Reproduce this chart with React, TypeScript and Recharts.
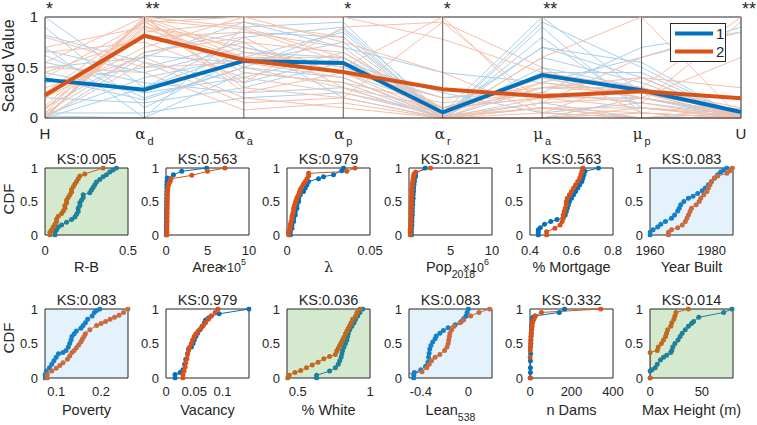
import React from 'react';
import { LineChart, Line, XAxis, YAxis, CartesianGrid, ReferenceLine, Legend } from 'recharts';

const FONT = '"Liberation Sans", Arial, Helvetica, sans-serif';
const TXT = '#262626';
const BLUE = '#0072BD';
const ORANGE = '#D95319';
const FAINT_BLUE = '#a9d0ec';
const FAINT_ORANGE = '#f5c0aa';

// ---------- top panel (parallel coordinates) ----------
const parMain = ['H', 'α', 'α', 'α', 'α', 'μ', 'μ', 'U'];
const parSub = ['', 'd', 'a', 'p', 'r', 'a', 'p', ''];
const parStars = ['*', '**', '', '*', '*', '**', '', '**'];
const meanGroup1 = [0.38, 0.28, 0.565, 0.545, 0.055, 0.425, 0.275, 0.06];
const meanGroup2 = [0.225, 0.815, 0.575, 0.455, 0.285, 0.215, 0.265, 0.195];

const faintGroup1 = [
  [1.0, 0.3, 0.8, 0.9, 0.05, 0.7, 0.4, 0.0],
  [0.9, 0.1, 0.6, 0.85, 0.0, 0.95, 0.5, 0.0],
  [0.82, 0.55, 0.35, 0.6, 0.1, 0.4, 0.2, 0.05],
  [0.7, 0.0, 0.9, 0.95, 0.0, 0.5, 0.3, 0.02],
  [0.67, 0.45, 0.7, 0.5, 0.2, 0.25, 0.7, 0.85],
  [0.62, 0.2, 0.5, 0.4, 0.0, 0.8, 0.1, 0.0],
  [0.55, 0.35, 0.25, 0.3, 0.0, 0.15, 0.0, 0.0],
  [0.5, 0.6, 0.95, 0.7, 0.45, 0.35, 0.6, 0.9],
  [0.45, 0.25, 0.4, 0.65, 0.05, 1.0, 0.25, 0.0],
  [0.35, 0.5, 0.75, 0.2, 0.0, 0.6, 0.35, 0.0],
  [0.2, 0.15, 0.3, 0.55, 0.25, 0.05, 0.15, 0.03],
  [0.1, 0.65, 0.85, 0.8, 0.0, 0.9, 0.05, 0.0],
  [0.05, 0.05, 0.2, 0.25, 0.02, 0.45, 0.45, 0.0],
  [0.03, 0.4, 0.6, 0.45, 0.1, 0.2, 0.2, 0.0],
  [0.02, 0.0, 0.45, 0.35, 0.0, 0.1, 0.0, 0.05],
  [0.0, 0.3, 0.65, 0.6, 0.0, 0.3, 0.3, 0.0],
  [0.0, 0.62, 0.55, 0.75, 0.02, 0.7, 0.55, 0.0],
  [0.4, 0.18, 0.5, 0.88, 0.0, 0.0, 0.2, 0.02],
];
const faintGroup2 = [
  [0.0, 1.0, 0.9, 0.6, 0.0, 0.2, 0.1, 0.0],
  [0.0, 0.95, 0.5, 0.3, 0.1, 0.35, 0.25, 0.05],
  [0.02, 0.9, 0.7, 0.45, 0.02, 0.1, 0.05, 0.0],
  [0.05, 1.0, 0.3, 0.2, 0.95, 0.15, 0.2, 0.02],
  [0.1, 0.85, 0.95, 0.8, 0.05, 0.3, 0.4, 0.3],
  [0.0, 0.98, 0.6, 0.55, 0.0, 0.05, 0.0, 0.0],
  [0.2, 0.7, 1.0, 1.0, 0.78, 0.45, 0.3, 0.1],
  [0.3, 0.6, 0.2, 0.1, 0.0, 0.0, 0.05, 0.0],
  [0.4, 0.95, 0.45, 0.35, 0.15, 0.25, 0.15, 0.95],
  [0.45, 0.8, 0.85, 0.7, 0.0, 0.6, 1.0, 0.0],
  [0.5, 0.45, 0.08, 0.15, 0.0, 0.1, 0.1, 0.05],
  [0.55, 1.0, 0.65, 0.5, 1.0, 0.05, 0.0, 0.0],
  [0.65, 0.75, 0.4, 0.25, 0.05, 0.4, 0.2, 0.6],
  [0.7, 0.9, 0.75, 0.65, 0.1, 0.2, 0.3, 1.0],
  [0.8, 0.5, 0.55, 0.4, 0.02, 0.15, 0.6, 0.85],
  [0.0, 0.92, 0.35, 0.9, 0.95, 0.5, 0.05, 0.0],
  [0.05, 0.65, 0.8, 0.3, 0.0, 0.0, 0.1, 0.02],
  [0.08, 1.0, 0.25, 0.45, 0.2, 0.3, 0.25, 0.0],
  [0.02, 0.88, 0.6, 0.6, 0.0, 0.1, 0.0, 0.1],
  [0.25, 0.95, 1.0, 0.75, 0.45, 0.05, 0.4, 0.0],
  [0.0, 0.55, 0.15, 0.2, 0.0, 0.35, 0.2, 0.05],
  [0.12, 0.97, 0.88, 0.55, 0.1, 0.25, 0.15, 0.0],
];

// ---------- CDF panels: [value, cumulative fraction] ----------
const rbGroup1 = [[0.06,0],[0.06,0.04],[0.07,0.08],[0.08,0.12],[0.1,0.15],[0.13,0.19],[0.16,0.23],[0.18,0.27],[0.19,0.31],[0.2,0.35],[0.2,0.4],[0.21,0.44],[0.21,0.48],[0.22,0.52],[0.23,0.56],[0.23,0.6],[0.27,0.63],[0.28,0.67],[0.29,0.71],[0.3,0.75],[0.31,0.79],[0.33,0.83],[0.35,0.87],[0.37,0.9],[0.39,0.94],[0.41,0.97],[0.43,1]];
const rbGroup2 = [[0.03,0],[0.03,0.04],[0.04,0.08],[0.05,0.12],[0.06,0.16],[0.07,0.2],[0.07,0.24],[0.08,0.28],[0.1,0.32],[0.11,0.36],[0.12,0.4],[0.12,0.44],[0.13,0.48],[0.13,0.52],[0.14,0.56],[0.15,0.6],[0.16,0.64],[0.16,0.68],[0.17,0.72],[0.18,0.76],[0.19,0.8],[0.2,0.84],[0.21,0.88],[0.24,0.91],[0.35,1]];
const areaGroup1 = [[0.03,0],[0.03,0.05],[0.04,0.1],[0.04,0.15],[0.05,0.2],[0.05,0.25],[0.05,0.3],[0.06,0.35],[0.06,0.4],[0.07,0.45],[0.07,0.5],[0.08,0.55],[0.08,0.6],[0.09,0.65],[0.1,0.7],[0.1,0.75],[0.12,0.8],[0.15,0.85],[0.9,0.9],[1.9,0.95],[4.9,1]];
const areaGroup2 = [[0.1,0],[0.1,0.04],[0.1,0.08],[0.11,0.12],[0.11,0.16],[0.12,0.2],[0.12,0.24],[0.12,0.28],[0.13,0.32],[0.13,0.36],[0.14,0.4],[0.14,0.44],[0.15,0.48],[0.15,0.52],[0.16,0.56],[0.17,0.6],[0.18,0.64],[0.2,0.68],[0.25,0.72],[0.35,0.76],[0.5,0.8],[0.6,0.84],[3.1,0.89],[5.0,0.95],[7.1,1]];
const lambdaGroup1 = [[0.002,0],[0.002,0.05],[0.003,0.1],[0.003,0.15],[0.004,0.2],[0.004,0.25],[0.005,0.3],[0.005,0.35],[0.006,0.4],[0.006,0.45],[0.007,0.5],[0.007,0.55],[0.008,0.6],[0.01,0.65],[0.011,0.7],[0.012,0.75],[0.013,0.8],[0.019,0.84],[0.022,0.87],[0.028,0.9],[0.033,0.96],[0.034,1]];
const lambdaGroup2 = [[0.001,0],[0.001,0.04],[0.0015,0.08],[0.002,0.12],[0.002,0.16],[0.0025,0.2],[0.003,0.24],[0.003,0.28],[0.0035,0.32],[0.004,0.36],[0.004,0.4],[0.0045,0.44],[0.005,0.48],[0.0055,0.52],[0.006,0.56],[0.007,0.6],[0.0075,0.64],[0.008,0.68],[0.009,0.72],[0.01,0.76],[0.011,0.8],[0.012,0.84],[0.013,0.88],[0.013,0.92],[0.036,0.95],[0.041,1]];
const popGroup1 = [[0.3,0],[0.3,0.05],[0.3,0.1],[0.35,0.15],[0.35,0.2],[0.35,0.25],[0.4,0.3],[0.4,0.35],[0.4,0.4],[0.45,0.45],[0.45,0.5],[0.5,0.55],[0.5,0.6],[0.55,0.65],[0.55,0.7],[0.6,0.75],[0.65,0.8],[0.7,0.85],[0.8,0.88],[0.8,0.92],[1.96,1]];
const popGroup2 = [[0.15,0],[0.15,0.04],[0.15,0.08],[0.2,0.12],[0.2,0.16],[0.2,0.2],[0.2,0.24],[0.25,0.28],[0.25,0.32],[0.25,0.36],[0.25,0.4],[0.3,0.44],[0.3,0.48],[0.3,0.52],[0.3,0.56],[0.35,0.6],[0.35,0.64],[0.35,0.68],[0.4,0.72],[0.4,0.76],[0.45,0.8],[0.5,0.84],[0.55,0.88],[0.6,0.91],[0.8,0.94],[2.6,1]];
const mortGroup1 = [[0.44,0],[0.44,0.04],[0.44,0.08],[0.45,0.11],[0.47,0.16],[0.5,0.2],[0.53,0.23],[0.56,0.26],[0.57,0.3],[0.575,0.35],[0.58,0.4],[0.585,0.45],[0.59,0.5],[0.6,0.55],[0.61,0.6],[0.62,0.65],[0.63,0.7],[0.64,0.75],[0.65,0.8],[0.655,0.85],[0.66,0.9],[0.665,0.95],[0.73,1]];
const mortGroup2 = [[0.48,0],[0.48,0.05],[0.52,0.1],[0.545,0.15],[0.555,0.2],[0.56,0.25],[0.56,0.3],[0.565,0.35],[0.57,0.4],[0.575,0.45],[0.575,0.5],[0.58,0.55],[0.59,0.6],[0.6,0.65],[0.61,0.7],[0.62,0.75],[0.63,0.8],[0.64,0.85],[0.645,0.9],[0.65,0.95],[0.655,1]];
const yearGroup1 = [[1960,0],[1960,0.04],[1961,0.08],[1962.5,0.12],[1963.5,0.16],[1965,0.2],[1967,0.25],[1968,0.3],[1969,0.36],[1969.5,0.4],[1970,0.45],[1971,0.5],[1972.5,0.55],[1974,0.58],[1975.5,0.62],[1977,0.66],[1978,0.7],[1979,0.75],[1980,0.8],[1981,0.85],[1982,0.9],[1983,0.94],[1984,0.97],[1985,1]];
const yearGroup2 = [[1966,0],[1966,0.04],[1967,0.08],[1969,0.11],[1970.5,0.15],[1971.5,0.2],[1972,0.25],[1972.5,0.3],[1973,0.35],[1973.5,0.4],[1975,0.45],[1976,0.5],[1976.5,0.55],[1977.5,0.6],[1978.5,0.65],[1979,0.7],[1979.5,0.75],[1980,0.8],[1981,0.85],[1982,0.88],[1985,0.92],[1986,0.96],[1986.8,1]];
const povertyGroup1 = [[0.075,0],[0.075,0.05],[0.078,0.1],[0.085,0.15],[0.09,0.2],[0.095,0.25],[0.1,0.3],[0.105,0.35],[0.115,0.37],[0.122,0.4],[0.127,0.45],[0.13,0.5],[0.133,0.55],[0.135,0.6],[0.14,0.64],[0.145,0.68],[0.155,0.72],[0.16,0.76],[0.165,0.8],[0.17,0.85],[0.18,0.9],[0.185,0.95],[0.19,0.98],[0.197,1]];
const povertyGroup2 = [[0.08,0],[0.08,0.05],[0.09,0.1],[0.1,0.14],[0.108,0.18],[0.115,0.22],[0.125,0.27],[0.13,0.32],[0.135,0.37],[0.14,0.4],[0.145,0.44],[0.15,0.48],[0.155,0.52],[0.158,0.56],[0.162,0.6],[0.165,0.64],[0.175,0.7],[0.19,0.76],[0.2,0.79],[0.21,0.82],[0.22,0.85],[0.23,0.88],[0.24,0.91],[0.25,0.95],[0.26,1]];
const vacancyGroup1 = [[0.016,0],[0.016,0.05],[0.025,0.08],[0.03,0.12],[0.033,0.2],[0.035,0.27],[0.038,0.35],[0.04,0.42],[0.045,0.45],[0.048,0.5],[0.05,0.55],[0.053,0.6],[0.056,0.65],[0.06,0.7],[0.064,0.75],[0.068,0.8],[0.07,0.84],[0.075,0.87],[0.08,0.9],[0.094,0.93],[0.147,1]];
const vacancyGroup2 = [[0.03,0],[0.03,0.05],[0.032,0.1],[0.034,0.16],[0.035,0.22],[0.037,0.28],[0.038,0.34],[0.04,0.4],[0.042,0.45],[0.045,0.5],[0.047,0.55],[0.05,0.6],[0.053,0.64],[0.057,0.68],[0.062,0.72],[0.066,0.76],[0.07,0.8],[0.075,0.85],[0.08,0.9],[0.087,0.95],[0.092,1]];
const whiteGroup1 = [[0.63,0],[0.63,0.04],[0.72,0.1],[0.76,0.15],[0.78,0.2],[0.79,0.25],[0.8,0.3],[0.805,0.35],[0.81,0.4],[0.82,0.45],[0.83,0.5],[0.84,0.55],[0.845,0.6],[0.85,0.65],[0.86,0.7],[0.875,0.75],[0.89,0.8],[0.9,0.85],[0.915,0.9],[0.93,0.95],[0.95,1]];
const whiteGroup2 = [[0.43,0],[0.44,0.04],[0.48,0.08],[0.52,0.11],[0.56,0.15],[0.6,0.19],[0.64,0.23],[0.68,0.28],[0.72,0.31],[0.76,0.34],[0.77,0.39],[0.78,0.43],[0.79,0.47],[0.8,0.51],[0.81,0.55],[0.82,0.59],[0.83,0.64],[0.84,0.68],[0.85,0.72],[0.86,0.76],[0.87,0.8],[0.88,0.85],[0.9,0.9],[0.91,0.95],[0.93,1]];
const leanGroup1 = [[-0.46,0],[-0.46,0.04],[-0.455,0.08],[-0.4,0.12],[-0.36,0.17],[-0.34,0.23],[-0.335,0.3],[-0.33,0.36],[-0.325,0.42],[-0.315,0.47],[-0.3,0.52],[-0.28,0.57],[-0.27,0.61],[-0.24,0.65],[-0.21,0.69],[-0.17,0.73],[-0.11,0.77],[-0.06,0.82],[-0.04,0.86],[-0.02,0.9],[-0.01,0.95],[0,1]];
const leanGroup2 = [[-0.6,0],[-0.6,0.04],[-0.39,0.09],[-0.35,0.15],[-0.33,0.2],[-0.31,0.25],[-0.28,0.3],[-0.24,0.34],[-0.2,0.4],[-0.18,0.45],[-0.17,0.5],[-0.165,0.55],[-0.16,0.6],[-0.155,0.65],[-0.14,0.7],[-0.12,0.75],[-0.07,0.8],[-0.04,0.84],[0.02,0.9],[0.09,0.95],[0.18,1]];
const damsGroup1 = [[2,0],[2,0.08],[2,0.15],[2,0.25],[3,0.35],[3,0.45],[4,0.5],[4,0.55],[5,0.6],[6,0.65],[7,0.7],[8,0.75],[10,0.8],[12,0.85],[15,0.88],[25,0.9],[141,0.95],[167,1]];
const damsGroup2 = [[0,0],[0,0.3],[1,0.4],[2,0.45],[3,0.5],[4,0.55],[5,0.6],[6,0.65],[8,0.7],[10,0.75],[12,0.8],[15,0.83],[20,0.86],[25,0.9],[55,0.95],[341,1]];
const maxHeightGroup1 = [[0,0],[0,0.1],[2,0.12],[5,0.15],[7,0.2],[10,0.26],[13,0.3],[16,0.33],[20,0.37],[21,0.4],[22,0.45],[24,0.5],[27,0.55],[29,0.6],[31,0.65],[34,0.7],[37,0.75],[40,0.79],[42,0.82],[47,0.88],[71,0.95],[79,1]];
const maxHeightGroup2 = [[0,0],[0,0.37],[7,0.4],[8,0.45],[11,0.5],[13,0.55],[15,0.6],[16,0.65],[17,0.7],[20,0.75],[21,0.8],[23,0.85],[24,0.9],[25,0.95],[37,1]];

const ksValues = ['0.005', '0.563', '0.979', '0.821', '0.563', '0.083', '0.083', '0.979', '0.036', '0.083', '0.332', '0.014'];
const xLabelMain = ['R-B', 'Area', 'λ', 'Pop', '% Mortgage', 'Year Built', 'Poverty', 'Vacancy', '% White', 'Lean', 'n Dams', 'Max Height (m)'];
const xLabelSub = ['', '', '', '2018', '', '', '', '', '', '538', '', ''];
const xLabelExpo = ['', '5', '', '6', '', '', '', '', '', '', '', ''];
const xDomains: [number, number][] = [[0, 0.5], [0, 10], [0, 0.05], [0, 10], [0.4, 0.8], [1960, 1987], [0.075, 0.26], [0, 0.147], [0.425, 1], [-0.5, 0.2], [0, 400], [0, 80]];
const xTicks = [[0, 0.5], [0, 5, 10], [0, 0.05], [5, 10], [0.4, 0.6, 0.8], [1960, 1980], [0.1, 0.2], [0, 0.05, 0.1], [0.5, 1], [-0.4, 0], [0, 200, 400], [0, 50]];
const panelShade = ['green', '', '', '', '', 'blue', 'blue', '', 'green', 'blue', '', 'green'];
const group1Data = [rbGroup1, areaGroup1, lambdaGroup1, popGroup1, mortGroup1, yearGroup1, povertyGroup1, vacancyGroup1, whiteGroup1, leanGroup1, damsGroup1, maxHeightGroup1];
const group2Data = [rbGroup2, areaGroup2, lambdaGroup2, popGroup2, mortGroup2, yearGroup2, povertyGroup2, vacancyGroup2, whiteGroup2, leanGroup2, damsGroup2, maxHeightGroup2];

const shadeStyles: Record<string, { bg: string; c1: string; c2: string }> = {
  '': { bg: 'none', c1: BLUE, c2: ORANGE },
  green: { bg: '#d5e9cf', c1: '#1e809a', c2: '#c0691f' },
  blue: { bg: '#e3f2fb', c1: '#1580c8', c2: '#cc6a3e' },
};

const panelLefts = [45, 166, 287, 409, 530, 650];
const PANEL_W = 83;
const rowTops = [168, 309];
const rowHeights = [67, 69];
const rowTickMargin = [11, 9];
const rowYLabelCenter = [199, 338];

const toPts = (a: number[][]) => a.map(([x, y]) => ({ x, y }));

const parData = parMain.map((_, i) => {
  const row: Record<string, number> = { pos: i, m1: meanGroup1[i], m2: meanGroup2[i] };
  faintGroup1.forEach((l, j) => { row['b' + j] = l[i]; });
  faintGroup2.forEach((l, j) => { row['o' + j] = l[i]; });
  return row;
});

// ---------- label helpers ----------
const ParTick = (props: any) => {
  const { x, payload } = props;
  const i = payload.value as number;
  const greek = parSub[i] !== '';
  return (
    <text x={x} y={139} textAnchor="middle" fontSize={15} fill={TXT}>
      <tspan fontFamily={greek ? '"DejaVu Serif", serif' : FONT}>{parMain[i]}</tspan>
      {greek && <tspan dx={2} dy={6} fontSize={11}>{parSub[i]}</tspan>}
    </text>
  );
};

const StarLabel = (props: any) => (
  <text x={props.sx + 1} y={15} fontSize={18} fill={TXT} textAnchor="start">{props.star}</text>
);

const RotLabel = (props: any) => (
  <text x={props.lx} y={props.ly} transform={`rotate(-90, ${props.lx}, ${props.ly})`} textAnchor="middle" fontSize={props.fs} fill={TXT}>{props.text}</text>
);

const TitleLabel = (props: any) => (
  <text x={props.tx} y={props.ty} textAnchor="middle" fontSize={14.5} fill={TXT}>{props.text}</text>
);

const XLab = (props: any) => {
  const { cx, by, main, sub, expo, right } = props;
  return (
    <g>
      <text x={cx} y={by} textAnchor="middle" fontSize={14.5} fill={TXT}>
        <tspan fontFamily={main === 'λ' ? '"DejaVu Serif", serif' : FONT}>{main}</tspan>
        {sub ? <tspan dy={6} fontSize={10.5}>{sub}</tspan> : null}
      </text>
      {expo ? (
        <text x={right} y={by} textAnchor="end" fontSize={12.5} fill={TXT}>
          ×10<tspan dy={-7} fontSize={9}>{expo}</tspan>
        </text>
      ) : null}
    </g>
  );
};

const LegendBox = () => (
  <div style={{ position: 'relative', width: 56, height: 39, border: '1px solid #262626', background: '#fff', boxSizing: 'border-box' }}>
    <svg width={54} height={37} style={{ position: 'absolute', left: 0, top: 0, overflow: 'visible' }}>
      <line x1={4} x2={42} y1={9.5} y2={9.5} stroke={BLUE} strokeWidth={4} />
      <line x1={4} x2={42} y1={27.5} y2={27.5} stroke={ORANGE} strokeWidth={4} />
      <text x={45} y={15} fontSize={15} fill={TXT} fontFamily={FONT}>1</text>
      <text x={45} y={33} fontSize={15} fill={TXT} fontFamily={FONT}>2</text>
    </svg>
  </div>
);

// ---------- CDF panel ----------
const CdfPanel = ({ idx }: { idx: number }) => {
  const row = idx < 6 ? 0 : 1;
  const col = idx % 6;
  const left = panelLefts[col];
  const top = rowTops[row];
  const h = rowHeights[row];
  const w = PANEL_W;
  const ML = 46, MT = 22, MR = 14, XH = 44;
  const shade = shadeStyles[panelShade[idx]];
  const dom = xDomains[idx];
  return (
    <div style={{ position: 'absolute', left: left - ML, top: top - MT }}>
      <LineChart width={ML + w + MR} height={MT + h + XH} margin={{ top: MT, right: MR, bottom: 0, left: 0 }}>
        <CartesianGrid horizontal={false} vertical={false} fill={shade.bg} stroke="none" />
        <XAxis
          type="number"
          dataKey="x"
          domain={dom}
          ticks={xTicks[idx]}
          allowDataOverflow
          interval={0}
          height={XH}
          tickSize={0}
          tickLine={false}
          tickMargin={rowTickMargin[row]}
          axisLine={{ stroke: TXT }}
          tick={{ fontSize: 13, fill: TXT }}
          label={<XLab cx={ML + w / 2} by={MT + h + 36.5} main={xLabelMain[idx]} sub={xLabelSub[idx]} expo={xLabelExpo[idx]} right={ML + w - 3} />}
        />
        <YAxis
          type="number"
          domain={[0, 1]}
          ticks={[0, 0.5, 1]}
          width={ML}
          tickSize={0}
          tickLine={false}
          tickMargin={7}
          axisLine={{ stroke: TXT }}
          tick={{ fontSize: 13, fill: TXT }}
          label={col === 0 ? <RotLabel lx={13.5 - (left - ML)} ly={rowYLabelCenter[row] - (top - MT)} fs={15} text="CDF" /> : undefined}
        />
        <ReferenceLine y={1} stroke={TXT} label={<TitleLabel tx={ML + w / 2} ty={MT - 4} text={'KS:' + ksValues[idx]} />} />
        <ReferenceLine x={dom[1]} stroke={TXT} />
        <Line data={toPts(group1Data[idx])} dataKey="y" type="linear" stroke={shade.c1} strokeWidth={1}
          dot={{ r: 2.5, fill: shade.c1, stroke: shade.c1, strokeWidth: 0, clipDot: false } as any}
          activeDot={false} isAnimationActive={false} />
        <Line data={toPts(group2Data[idx])} dataKey="y" type="linear" stroke={shade.c2} strokeWidth={1}
          dot={{ r: 2.5, fill: shade.c2, stroke: shade.c2, strokeWidth: 0, clipDot: false } as any}
          activeDot={false} isAnimationActive={false} />
      </LineChart>
    </div>
  );
};

export default function App() {
  return (
    <div style={{ position: 'absolute', left: 0, top: 0, width: 757, height: 425, background: '#fff', fontFamily: FONT, overflow: 'hidden' }}>
      <div style={{ position: 'absolute', left: 0, top: 0 }}>
        <LineChart width={757} height={150} data={parData} margin={{ top: 17, right: 16, bottom: 0, left: 0 }}>
          <XAxis
            dataKey="pos"
            type="number"
            domain={[0, 7]}
            ticks={[0, 1, 2, 3, 4, 5, 6, 7]}
            interval={0}
            height={32}
            tickSize={0}
            tickLine={false}
            axisLine={{ stroke: TXT }}
            tick={<ParTick />}
          />
          <YAxis
            domain={[0, 1]}
            ticks={[0, 0.5, 1]}
            width={45}
            tickSize={0}
            tickLine={false}
            tickMargin={7}
            axisLine={false}
            tick={{ fontSize: 15, fill: TXT }}
            label={<RotLabel lx={14} ly={66} fs={16} text="Scaled Value" />}
          />
          <ReferenceLine y={1} stroke={TXT} />
          {faintGroup1.map((_, j) => (
            <Line key={'b' + j} dataKey={'b' + j} stroke={FAINT_BLUE} strokeWidth={1} dot={false} activeDot={false} isAnimationActive={false} legendType="none" />
          ))}
          {faintGroup2.map((_, j) => (
            <Line key={'o' + j} dataKey={'o' + j} stroke={FAINT_ORANGE} strokeWidth={1} dot={false} activeDot={false} isAnimationActive={false} legendType="none" />
          ))}
          {parMain.map((_, i) => (
            <ReferenceLine key={'v' + i} x={i} stroke={i === 0 || i === 7 ? TXT : '#5a5a5a'}
              label={parStars[i] ? <StarLabel sx={45 + i * (696 / 7)} star={parStars[i]} /> : undefined} />
          ))}
          <Line dataKey="m1" name="1" stroke={BLUE} strokeWidth={4} dot={false} activeDot={false} isAnimationActive={false} />
          <Line dataKey="m2" name="2" stroke={ORANGE} strokeWidth={4} dot={false} activeDot={false} isAnimationActive={false} />
          <Legend layout="horizontal" verticalAlign="middle" align="center" content={<LegendBox />}
            wrapperStyle={{ position: 'absolute', left: 670, top: 23, width: 56, height: 39 }} />
        </LineChart>
      </div>
      {ksValues.map((_, i) => <CdfPanel key={i} idx={i} />)}
    </div>
  );
}
